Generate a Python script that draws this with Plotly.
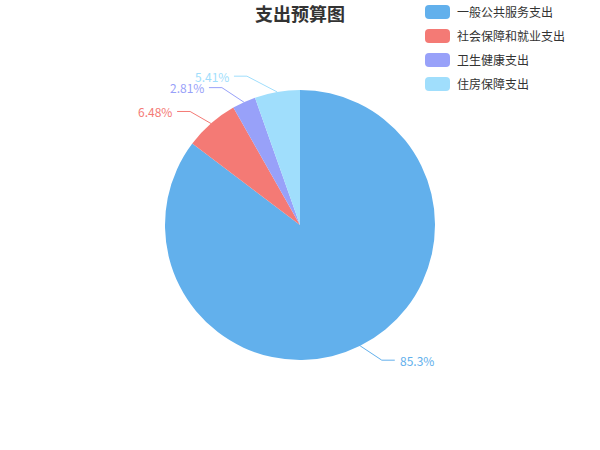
import math
import plotly.graph_objects as go

# data
categories = ["一般公共服务支出", "社会保障和就业支出", "卫生健康支出", "住房保障支出"]
shares = [85.3, 6.48, 2.81, 5.41]
label_texts = ["85.3%", "6.48%", "2.81%", "5.41%"]
colors = ["#62b0ec", "#f47a75", "#98a1f9", "#a0defc"]

W, H = 600, 450
cx, cy, r = 300, 225, 135


def px(x):
    return x / W


def py(y):
    return 1 - y / H


fig = go.Figure(go.Pie(
    labels=categories,
    values=shares,
    sort=False,
    direction="clockwise",
    rotation=0,
    marker=dict(colors=colors, line=dict(width=0)),
    textinfo="none",
    hoverinfo="label+percent",
    showlegend=False,
    domain=dict(x=[px(cx - r), px(cx + r)], y=[py(cy + r), py(cy - r)]),
))

shapes = []
annotations = []

# leader lines + outside labels, placed from each slice's mid angle
total = sum(shares)
cum = 0
for val, txt, col in zip(shares, label_texts, colors):
    mid = (cum + val / 2) / total * 2 * math.pi
    cum += val
    sx, sy = cx + r * math.sin(mid), cy - r * math.cos(mid)
    dy = -151 * math.cos(mid)
    side = 1 if math.sin(mid) >= 0 else -1
    ex = cx + side * math.sqrt(max(158 ** 2 - dy ** 2, 0))
    ey = cy + dy
    hx = ex + side * 13
    shapes.append(dict(
        type="path", xref="paper", yref="paper",
        path=f"M {px(sx)},{py(sy)} L {px(ex)},{py(ey)} L {px(hx)},{py(ey)}",
        line=dict(color=col, width=1),
    ))
    annotations.append(dict(
        x=px(hx + side * 3), y=py(ey), xref="paper", yref="paper",
        text=txt, showarrow=False,
        xanchor="left" if side > 0 else "right", yanchor="middle",
        font=dict(size=12, color=col),
    ))

# legend with rounded icons
lx, ly0, lstep, iw, ih, rad = 425, 12, 24, 25, 14, 4
for i, (name, col) in enumerate(zip(categories, colors)):
    yc = ly0 + i * lstep
    x0, x1, y0, y1 = lx, lx + iw, yc - ih / 2, yc + ih / 2
    pts = [
        ("M", x0 + rad, y0), ("L", x1 - rad, y0), ("Q", x1, y0, x1, y0 + rad),
        ("L", x1, y1 - rad), ("Q", x1, y1, x1 - rad, y1),
        ("L", x0 + rad, y1), ("Q", x0, y1, x0, y1 - rad),
        ("L", x0, y0 + rad), ("Q", x0, y0, x0 + rad, y0),
    ]
    path = ""
    for p in pts:
        coords = p[1:]
        pairs = [f"{px(coords[k])},{py(coords[k + 1])}" for k in range(0, len(coords), 2)]
        path += p[0] + " " + " ".join(pairs) + " "
    shapes.append(dict(type="path", xref="paper", yref="paper", path=path + "Z",
                       fillcolor=col, line=dict(width=0)))
    annotations.append(dict(
        x=px(lx + iw + 5), y=py(yc), xref="paper", yref="paper",
        text=name, showarrow=False, xanchor="left", yanchor="middle",
        font=dict(size=12, color="#333333"),
    ))

fig.update_layout(
    width=W, height=H,
    margin=dict(l=0, r=0, t=0, b=0),
    paper_bgcolor="white",
    font=dict(family="Noto Sans CJK SC", size=12, color="#333333"),
    title=dict(text="<b>支出预算图</b>", x=0.5, xanchor="center", y=py(15), yanchor="middle",
               font=dict(size=18, color="#333333")),
    shapes=shapes,
    annotations=annotations,
)

# drop the page's default body margin so the figure sits at the window's corner
fig.write_html("out.html", config={"displayModeBar": False},
               post_script="document.body.style.margin = '0';")
